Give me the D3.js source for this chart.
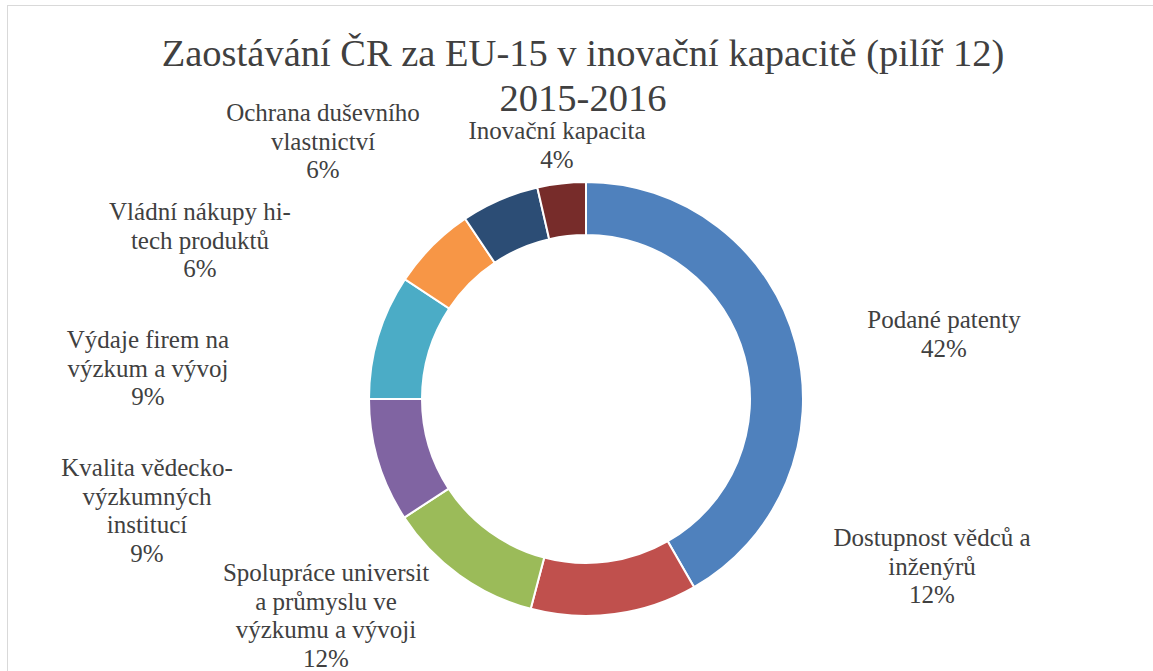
<!DOCTYPE html>
<html lang="cs">
<head>
  <meta charset="UTF-8">
  <title>Zaostávání ČR za EU-15 v inovační kapacitě</title>
  <script src="https://cdn.jsdelivr.net/npm/d3@7"></script>
  <style>
    body {
      margin: 0;
      background: #fff;
      overflow: hidden;
    }

    #chart text {
      font-family: "Liberation Serif", serif;
      fill: #404040;
    }
  </style>
</head>
<body>
<svg id="chart"></svg>
<script>
  const width = 1153, height = 671;

  // pilíř 12 – podíly na zaostávání
  const categories = ["Podané patenty", "Dostupnost vědců a inženýrů", "Spolupráce universit a průmyslu ve výzkumu a vývoji",
    "Kvalita vědecko-výzkumných institucí", "Výdaje firem na výzkum a vývoj", "Vládní nákupy hi-tech produktů",
    "Ochrana duševního vlastnictví", "Inovační kapacita"];
  const shares = [41.7, 12.4, 11.7, 9.2, 9.3, 6.3, 5.8, 3.6];
  const colors = ["#4F81BD", "#C0504D", "#9BBB59", "#8064A2", "#4BACC6", "#F79646", "#2C4D75", "#772C2A"];
  // line breaks as in the original labels
  const labelLines = [
    ["Podané patenty"],
    ["Dostupnost vědců a", "inženýrů"],
    ["Spolupráce universit", "a průmyslu ve", "výzkumu a vývoji"],
    ["Kvalita vědecko-", "výzkumných", "institucí"],
    ["Výdaje firem na", "výzkum a vývoj"],
    ["Vládní nákupy hi-", "tech produktů"],
    ["Ochrana duševního", "vlastnictví"],
    ["Inovační kapacita"]
  ];
  const titleLines = ["Zaostávání ČR za EU-15 v inovační kapacitě (pilíř 12)", "2015-2016"];

  // where the label blocks sit (center x, first line center y)
  const labelPos = [[944, 320], [932, 538], [326, 573], [147, 468], [148, 340], [200, 212], [323, 113], [557, 131]];

  const cx = 586, cy = 399, outerR = 217, innerR = 164;
  const lineH = 28.7;

  const svg = d3.select("#chart").attr("width", width).attr("height", height);

  svg.append("rect")
      .attr("x", 7.5).attr("y", 5.5)
      .attr("width", width + 20).attr("height", height + 20)
      .attr("fill", "#fff")
      .attr("stroke", "#D9D9D9")
      .attr("stroke-width", 1);

  let pie = d3.pie().sort(null).value(d => d);
  let arc = d3.arc().innerRadius(innerR).outerRadius(outerR);

  svg.append("g")
      .attr("transform", `translate(${cx},${cy})`)
      .selectAll("path")
      .data(pie(shares))
      .join("path")
      .attr("d", arc)
      .attr("fill", (d, i) => colors[i])
      .attr("stroke", "#fff")
      .attr("stroke-width", 2);

  svg.append("text")
      .attr("text-anchor", "middle")
      .style("font-size", "38.5px")
      .selectAll("tspan")
      .data(titleLines)
      .join("tspan")
      .attr("x", 583)
      .attr("y", (d, i) => 66 + i * 45)
      .text(d => d);

  let labels = svg.append("g")
      .selectAll("text")
      .data(categories)
      .join("text")
      .attr("text-anchor", "middle")
      .style("font-size", "25px");

  labels.each(function (d, i) {
    let lines = labelLines[i].concat([Math.round(shares[i]) + "%"]);
    d3.select(this).selectAll("tspan")
        .data(lines)
        .join("tspan")
        .attr("x", labelPos[i][0])
        .attr("y", (l, j) => labelPos[i][1] + j * lineH)
        .attr("dy", "0.32em")
        .text(l => l);
  });
</script>
</body>
</html>
